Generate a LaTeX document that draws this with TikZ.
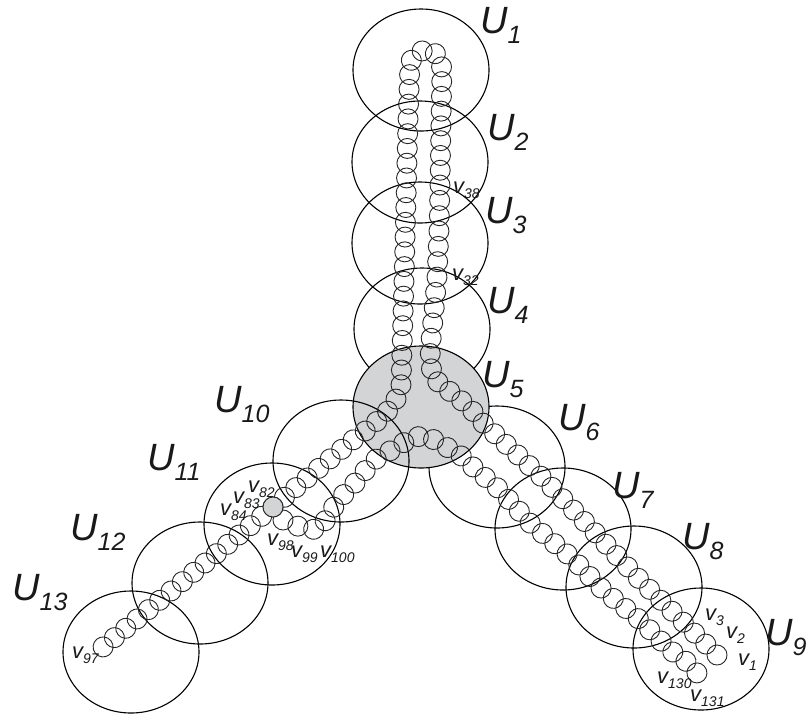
\documentclass[tikz,border=0pt]{standalone}
\usepackage{fontspec}
\setmainfont{Liberation Sans}
\usetikzlibrary{shapes.geometric,decorations.markings}
\definecolor{regiongray}{RGB}{211,212,214}
\newcommand{\Ulab}[1]{{\fontsize{38}{38}\selectfont\itshape U\raisebox{-10pt}{\fontsize{25}{25}\selectfont #1}}}
\newcommand{\vlab}[1]{{\fontsize{22}{22}\selectfont\itshape v\raisebox{-5pt}{\fontsize{14}{14}\selectfont #1}}}
\begin{document}
\begin{tikzpicture}[x=1pt,y=-1pt,
  region/.style={ellipse, draw=black, line width=1.1pt, minimum width=136pt, minimum height=122pt, inner sep=0pt},
  bead/.style={draw=black!85, line width=0.9pt},
  beads/.style 2 args={decorate, decoration={markings,
     mark=between positions #1 and 1 step #2 with {\draw[bead] (0,0) circle (10pt);}}},
  lab/.style={anchor=base west, inner sep=0pt, text=black!90},
]
\useasboundingbox (0,0) rectangle (808,716);

% regions
\node[region] (U1) at (421,70) {};
\node[region] (U2) at (420,162) {};
\node[region] (U3) at (420,243) {};
\node[region] (U4) at (422,329) {};
\node[region] (U6) at (497,467) {};
\node[region] (U7) at (563,529) {};
\node[region] (U8) at (634,587) {};
\node[region] (U9) at (701,649) {};
\node[region, fill=regiongray] (U5) at (421,407) {};
\node[region] (U10) at (341,461) {};
\node[region] (U11) at (272,524) {};
\node[region] (U12) at (200,583) {};
\node[region] (U13) at (131,652) {};

% chain v1 -> right arm top
\path[beads={0}{0.0475952}]
  (717,655) -- (640,580) -- (545,480) -- (483,423);
% right arm top -> v32
\path[beads={0.0908636}{0.0908636}]
  (483,423) -- (470,408) -- (455,395)
  -- (442,386) -- (432,376) -- (430,350) -- (434,310) -- (437,277);
% chain v32 -> v38
\path[beads={0.1665833}{0.1665833}]
  (437,277) -- (439,230) -- (440,185);
% chain v38 -> over the top -> down the left column
\path[beads={0.0302879}{0.0302879}]
  (440,185) -- (441,120) -- (442,68) -- (436,54) -- (427,49) -- (417,53)
  -- (410,62) -- (408,120) -- (406,200) -- (404,280) -- (402,350) -- (401,385);
% left column -> v82
\path[beads={0.0832917}{0.0832917}]
  (401,385) -- (395,402) -- (386,413) -- (375,423) -- (364,432) -- (353,440)
  -- (313,473) -- (273,507);
% chain v82 -> v97
\path[beads={0.0666333}{0.0666333}]
  (273,507) -- (103,647);
% chain v98 -> right arm bottom
\path[beads={0}{0.0666333}]
  (283,520) -- (300,527) -- (318,530) -- (328,517) -- (335,505) -- (345,493)
  -- (355,483) -- (373,461) -- (400,445) -- (413,437) -- (427,436) -- (440,443)
  -- (463,457) -- (473,467);
% right arm bottom -> v131
\path[beads={0.0526053}{0.0526053}]
  (473,467) -- (500,490) -- (530,523) -- (572,558) -- (603,590)
  -- (640,620) -- (670,650) -- (687,662) -- (697,673);

\node[circle, draw=black!85, line width=0.9pt, fill=regiongray, minimum size=20pt, inner sep=0pt] (v82) at (273,507) {};

% region labels
\node[lab] (lU1) at (480,33) {\Ulab{1}};
\node[lab] (lU2) at (487,140) {\Ulab{2}};
\node[lab] (lU3) at (485,223) {\Ulab{3}};
\node[lab] (lU4) at (487,313) {\Ulab{4}};
\node[lab] (lU5) at (482,387) {\Ulab{5}};
\node[lab] (lU6) at (558,430) {\Ulab{6}};
\node[lab] (lU7) at (612,498) {\Ulab{7}};
\node[lab] (lU8) at (682,549) {\Ulab{8}};
\node[lab] (lU9) at (765,645) {\Ulab{9}};
\node[lab] (lU10) at (214,412) {\Ulab{10}};
\node[lab] (lU11) at (147,470) {\Ulab{11}};
\node[lab] (lU12) at (70,540) {\Ulab{12}};
\node[lab] (lU13) at (12,600) {\Ulab{13}};

% vertex labels
\node[lab] (l38) at (453,193) {\vlab{38}};
\node[lab] (l32) at (452,280) {\vlab{32}};
\node[lab] (l82) at (248,492) {\vlab{82}};
\node[lab] (l83) at (233,503) {\vlab{83}};
\node[lab] (l84) at (220,515) {\vlab{84}};
\node[lab] (l98) at (267,545) {\vlab{98}};
\node[lab] (l99) at (291,557) {\vlab{99}};
\node[lab] (l100) at (320,557) {\vlab{100}};
\node[lab] (l97) at (72,658) {\vlab{97}};
\node[lab] (l3) at (705,620) {\vlab{3}};
\node[lab] (l2) at (726,638) {\vlab{2}};
\node[lab] (l1) at (738,665) {\vlab{1}};
\node[lab] (l130) at (657,683) {\vlab{130}};
\node[lab] (l131) at (690,701) {\vlab{131}};
\end{tikzpicture}
\end{document}
